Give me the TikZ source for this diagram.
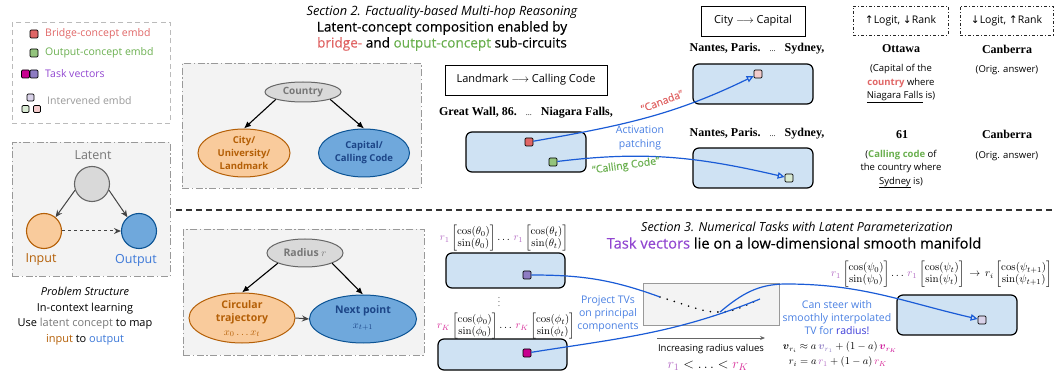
\RequirePackage{fix-cm}
\documentclass[tikz,border=0pt]{standalone}
\usepackage{amsmath,amssymb}
\usepackage[no-math]{fontspec}
\setmainfont{Open Sans}
\newfontfamily\medf[FakeBold=0.4]{Open Sans}
\newfontfamily\serifb{Liberation Serif}
\newfontfamily\symf{DejaVu Sans}
\usetikzlibrary{shapes.geometric,arrows.meta}

\definecolor{bgfill}{HTML}{F3F3F3}
\definecolor{bayesgray}{HTML}{999999}
\definecolor{legendgray}{HTML}{BBBBBB}
\definecolor{embfill}{HTML}{CFE2F3}
\definecolor{linkblue}{HTML}{1A5BD6}
\definecolor{labelblue}{HTML}{4A80E2}
\definecolor{radblue}{HTML}{3A3AD8}
\definecolor{bridgered}{HTML}{E06666}
\definecolor{outgreen}{HTML}{93C47D}
\definecolor{outgreentext}{HTML}{6AAF4F}
\definecolor{tvmag}{HTML}{C8008F}
\definecolor{tvpurp}{HTML}{8E7CC3}
\definecolor{tvtext}{HTML}{9146D0}
\definecolor{lpink}{HTML}{F4CCCC}
\definecolor{lgreen}{HTML}{D9EAD3}
\definecolor{lpurp}{HTML}{D9D2E9}
\definecolor{intgray}{HTML}{999999}
\definecolor{latfill}{HTML}{D9D9D9}
\definecolor{latdraw}{HTML}{666666}
\definecolor{latgray}{HTML}{777777}
\definecolor{infill}{HTML}{F9CB9C}
\definecolor{indraw}{HTML}{B45F06}
\definecolor{outfill}{HTML}{6FA8DC}
\definecolor{outdraw}{HTML}{0B5394}
\definecolor{outputtext}{HTML}{3C78D8}
\definecolor{navy}{HTML}{1C4587}
\definecolor{rone}{HTML}{B46CC4}
\definecolor{rk}{HTML}{D8309A}
\definecolor{arrgray}{HTML}{444444}

\begin{document}
\begin{tikzpicture}[x=1pt,y=1pt,
  lbl/.style={inner sep=0pt, font=\fontsize{10.5}{12}\selectfont},
  sq/.style={draw=black, line width=0.7pt, rounded corners=1.2pt, minimum size=8pt, inner sep=0pt},
  emb/.style={draw=black, line width=1.2pt, rounded corners=6pt, fill=embfill, inner sep=0pt},
  bayes/.style={draw=bayesgray, line width=0.9pt, dash pattern=on 7pt off 2.5pt on 1.5pt off 2.5pt, fill=bgfill, inner sep=0pt},
  legendbox/.style={draw=legendgray, line width=0.9pt, dash pattern=on 5pt off 3.5pt, inner sep=0pt},
  ell/.style={ellipse, line width=1pt, inner sep=0pt},
  conn/.style={draw=linkblue, line width=1.2pt},
  opentip/.style={-{Triangle[open,length=7pt,width=6.5pt]}},
  garrow/.style={draw=arrgray, line width=1pt, -{Stealth[length=7pt,width=6pt]}},
  barrow/.style={draw=black, line width=1.1pt, -{Latex[length=7pt,width=6pt]}},
  serifnode/.style={inner sep=0pt, font=\serifb\bfseries\fontsize{12}{14}\selectfont},
  smalltxt/.style={inner sep=0pt, align=center, font=\fontsize{9.5}{13.5}\selectfont},
  hdrone/.style={inner sep=0pt, font=\itshape\fontsize{12.8}{14}\selectfont},
  hdrtwo/.style={inner sep=0pt, font=\medf\fontsize{13.6}{15}\selectfont},
  mathnine/.style={inner sep=0pt, font=\fontsize{10.8}{12}\selectfont},
  dashbox/.style={draw=black!85, line width=0.9pt, dash pattern=on 3pt off 2pt on 1pt off 2pt, inner sep=0pt, font=\fontsize{10.5}{12}\selectfont},
  plainbox/.style={draw=black, line width=0.8pt, inner sep=0pt, font=\fontsize{11}{13}\selectfont},
  bluetxt/.style={inner sep=0pt, align=center, text=labelblue, font=\fontsize{10.5}{13.5}\selectfont},
  dotcurve/.style={draw=black, line width=1.8pt, line cap=round, dash pattern=on 0pt off 7.5pt},
  sepline/.style={draw=black!80, line width=1.2pt, dash pattern=on 6pt off 4pt}
]
\useasboundingbox (0,0) rectangle (1055,-379);

% ---------- legend ----------
\node[legendbox, minimum width=158pt, minimum height=101pt, anchor=north west] (legend) at (12,-22) {};
\node[sq, fill=bridgered] (lr) at (34,-34) {};
\node[lbl, text=bridgered, anchor=west] (lrt) at (45,-34) {Bridge-concept embd};
\node[sq, fill=outgreen] (lg) at (34,-53) {};
\node[lbl, text=outgreentext, anchor=west] (lgt) at (45,-53) {Output-concept embd};
\node[sq, fill=tvmag] (lm) at (25.5,-74) {};
\node[sq, fill=tvpurp] (lp) at (34,-74) {};
\node[lbl, text=tvtext, anchor=west] (lmt) at (45,-74) {Task vectors};
\node[sq, fill=lpurp, minimum size=7pt] (li1) at (30.5,-97.5) {};
\node[sq, fill=lgreen, minimum size=7pt] (li2) at (25.5,-109) {};
\node[sq, fill=lpink, minimum size=7pt] (li3) at (37,-109) {};
\node[lbl, text=intgray, anchor=west] (lit) at (47,-101) {Intervened embd};

% ---------- problem structure ----------
\node[bayes, minimum width=158pt, minimum height=134pt, anchor=north west] (psbox) at (12,-142) {};
\node[inner sep=0pt, font=\fontsize{12.5}{14}\selectfont, text=latgray] (latt) at (93,-155) {Latent};
\node[circle, draw=latdraw, fill=latfill, line width=1.1pt, minimum size=35pt, inner sep=0pt] (lat) at (92,-184) {};
\node[circle, draw=indraw, fill=infill, line width=1.1pt, minimum size=35pt, inner sep=0pt] (inp) at (44,-231) {};
\node[circle, draw=outdraw, fill=outfill, line width=1.1pt, minimum size=35pt, inner sep=0pt] (outc) at (139,-231) {};
\node[inner sep=0pt, font=\fontsize{12.5}{14}\selectfont, text=indraw] (inpt) at (41,-260) {Input};
\node[inner sep=0pt, font=\fontsize{12.5}{14}\selectfont, text=outputtext] (outt) at (136,-260) {Output};
\draw[garrow] (lat.200) -- (inp.50);
\draw[garrow] (lat.340) -- (outc.130);
\draw[garrow, dashed] (inp) -- (outc);
\node[inner sep=0pt, align=center, font=\fontsize{11}{15.6}\selectfont] (cap) at (85,-316) {\textit{Problem Structure}\\In-context learning\\Use {\color{latgray}latent concept} to map\\{\color{indraw}input} to {\color{outputtext}output}};

% ---------- top bayes box ----------
\node[bayes, minimum width=239pt, minimum height=125pt, anchor=north west] (b1) at (182,-63) {};
\node[ell, draw=latdraw, fill=latfill, minimum width=76pt, minimum height=20pt] (country) at (303,-92) {};
\node[inner sep=0pt, text=latgray, font=\bfseries\fontsize{10}{12}\selectfont] (countryt) at (303,-92) {Country};
\node[ell, draw=indraw, fill=infill, minimum width=92pt, minimum height=48pt] (city) at (244,-153) {};
\node[inner sep=0pt, align=center, text=indraw, font=\bfseries\fontsize{9.5}{13}\selectfont] (cityt) at (244,-153) {City/\\University/\\Landmark};
\node[ell, draw=outdraw, fill=outfill, minimum width=91pt, minimum height=48pt] (capc) at (364,-153) {};
\node[inner sep=0pt, align=center, text=navy, font=\bfseries\fontsize{9.5}{13}\selectfont] (capt) at (364,-153) {Capital/\\Calling Code};
\draw[barrow] (country.south west) -- (city.north);
\draw[barrow] (country.south east) -- (capc.north);

% ---------- bottom bayes box ----------
\node[bayes, minimum width=241pt, minimum height=126pt, anchor=north west] (b2) at (183,-229) {};
\node[ell, draw=latdraw, fill=latfill, minimum width=76pt, minimum height=28pt] (radius) at (305,-253) {};
\node[inner sep=0pt, text=latgray, font=\bfseries\fontsize{10.5}{12}\selectfont] (radiust) at (305,-253) {Radius $r$};
\node[ell, draw=indraw, fill=infill, minimum width=106pt, minimum height=50pt] (circ) at (242,-318) {};
\node[inner sep=0pt, align=center, text=indraw, font=\bfseries\fontsize{10.5}{13.5}\selectfont] (circt) at (242,-318.5) {Circular\\trajectory\\{\mdseries$x_0\ldots x_t$}};
\node[ell, draw=outdraw, fill=outfill, minimum width=107pt, minimum height=48pt] (nextp) at (363,-319) {};
\node[inner sep=0pt, align=center, text=navy, font=\bfseries\fontsize{10.5}{15}\selectfont] (nextt) at (363,-318) {Next point\\{\mdseries$x_{t+1}$}};
\draw[barrow] (radius.south west) -- (circ.north);
\draw[barrow] (radius.south east) -- (nextp.north);
\draw[garrow] (circ.east) -- (nextp.west);

% ---------- section 2 header ----------
\node[hdrone] (s2a) at (442,-12) {Section 2. Factuality-based Multi-hop Reasoning};
\node[hdrtwo] (s2b) at (442,-28) {Latent-concept composition enabled by};
\node[hdrtwo] (s2c) at (442,-44) {{\color{bridgered}bridge-} and {\color{outgreentext}output-concept} sub-circuits};

% ---------- section 2 content ----------
\node[plainbox, minimum width=162pt, minimum height=30pt] (lmbox) at (526,-80) {Landmark $\longrightarrow$ Calling Code};
\node[serifnode] (gw) at (526,-113) {Great Wall, 86.\hspace{9pt}{\mdseries\fontsize{8}{8}\selectfont...}\hspace{9pt}Niagara Falls,};
\node[emb, minimum width=120pt, minimum height=40pt] (e1) at (526,-152) {};
\node[sq, fill=bridgered] (br) at (529,-142) {};
\node[sq, fill=outgreen] (gq) at (553,-162) {};

\node[plainbox, minimum width=104pt, minimum height=30pt] (ccbox) at (753,-21) {City $\longrightarrow$ Capital};
\node[serifnode] (np1) at (757,-49) {Nantes, Paris.\hspace{9pt}{\mdseries\fontsize{8}{8}\selectfont...}\hspace{9pt}Sydney,};
\node[emb, minimum width=120pt, minimum height=40pt] (e2) at (753,-84) {};
\node[sq, fill=lpink] (pk) at (758,-74) {};
\node[serifnode] (np2) at (757,-134) {Nantes, Paris.\hspace{9pt}{\mdseries\fontsize{8}{8}\selectfont...}\hspace{9pt}Sydney,};
\node[emb, minimum width=120pt, minimum height=40pt] (e3) at (753,-168) {};
\node[sq, fill=lgreen] (lgq) at (789,-178) {};

\draw[conn, opentip] (br) to[out=10, in=206] (pk);
\draw[conn, opentip] (gq) to[out=7, in=167] (lgq);

\node[inner sep=0pt, rotate=21, text=bridgered, font=\medf\fontsize{10.5}{12}\selectfont] (canada) at (662,-101) {“Canada”};
\node[bluetxt] (actp) at (640,-138) {Activation\\patching};
\node[inner sep=0pt, rotate=8, text=outgreentext, font=\medf\fontsize{10.5}{12}\selectfont] (callc) at (626,-166) {“Calling Code”};

\node[dashbox, minimum width=95pt, minimum height=29pt] (lb1) at (900.5,-20.5) {{\symf ↑}Logit, {\symf ↓}Rank};
\node[dashbox, minimum width=93pt, minimum height=29pt] (lb2) at (1006.5,-20.5) {{\symf ↓}Logit, {\symf ↑}Rank};
\node[serifnode] (ott) at (901,-49) {Ottawa};
\node[serifnode] (can1) at (1007,-49) {Canberra};
\node[smalltxt] (exp1) at (901,-83.5) {(Capital of the\\{\color{bridgered}\bfseries country} where\\\underline{Niagara Falls} is)};
\node[smalltxt] (orig1) at (1007,-70) {(Orig. answer)};
\node[serifnode] (s61) at (902,-135) {61};
\node[serifnode] (can2) at (1007,-134) {Canberra};
\node[smalltxt] (exp2) at (901,-169) {({\color{outgreentext}\bfseries Calling code} of\\the country where\\\underline{Sydney} is)};
\node[smalltxt] (orig2) at (1007,-156) {(Orig. answer)};

% ---------- separator ----------
\coordinate (sepL) at (176,-210);
\coordinate (sepR) at (1052,-210);
\draw[sepline] (sepL) -- (sepR);

% ---------- section 3 header ----------
\node[hdrone, font=\itshape\fontsize{12.5}{14}\selectfont] (s3a) at (797,-227) {Section 3. Numerical Tasks with Latent Parameterization};
\node[hdrtwo, font=\medf\fontsize{14.7}{16}\selectfont] (s3b) at (794,-243) {{\color{tvtext}Task vectors} lie on a low-dimensional smooth manifold};

% ---------- section 3 content ----------
\node[mathnine] (f1) at (504,-238) {$\textcolor{rone}{r_1}\begin{bmatrix}\cos(\theta_0)\\ \sin(\theta_0)\end{bmatrix}\ldots\,\textcolor{rone}{r_1}\begin{bmatrix}\cos(\theta_t)\\ \sin(\theta_t)\end{bmatrix}$};
\node[emb, minimum width=119pt, minimum height=35pt] (e4) at (505.5,-270.5) {};
\node[sq, fill=tvpurp] (pq) at (527,-275) {};
\node[inner sep=0pt, text=black!60, font=\fontsize{9}{10}\selectfont] (vd) at (499,-299) {$\vdots$};
\node[mathnine] (f2) at (506,-326) {$\textcolor{rk}{r_K}\begin{bmatrix}\cos(\phi_0)\\ \sin(\phi_0)\end{bmatrix}\ldots\,\textcolor{rk}{r_K}\begin{bmatrix}\cos(\phi_t)\\ \sin(\phi_t)\end{bmatrix}$};
\node[emb, minimum width=129pt, minimum height=31pt] (e5) at (502.5,-354.5) {};
\node[sq, fill=tvmag] (mq) at (527,-353) {};
\node[bluetxt, font=\fontsize{10.5}{13}\selectfont] (projt) at (608,-314) {Project TVs\\on principal\\components};

\node[draw=bayesgray, fill=bgfill, line width=0.9pt, minimum width=136pt, minimum height=42pt, inner sep=0pt] (mani) at (711,-304) {};
\coordinate (md1) at (660,-297);
\coordinate (md2) at (720,-312);
\coordinate (md3) at (760,-299);
\draw[dotcurve] (md1) .. controls (690,-306) and (705,-313) .. (md2) .. controls (735,-312) and (748,-304) .. (md3);

\node[mathnine, anchor=west, font=\fontsize{10.9}{12}\selectfont] (f3) at (831,-274) {$\textcolor{rone}{r_1}\begin{bmatrix}\cos(\psi_0)\\ \sin(\psi_0)\end{bmatrix}\ldots\,\textcolor{rone}{r_1}\begin{bmatrix}\cos(\psi_t)\\ \sin(\psi_t)\end{bmatrix}\,\rightarrow\, r_i\begin{bmatrix}\cos(\psi_{t+1})\\ \sin(\psi_{t+1})\end{bmatrix}$};
\node[emb, minimum width=120pt, minimum height=40pt] (e6) at (957,-315) {};
\node[sq, fill=lpurp] (tq) at (982,-320) {};

\draw[conn] (pq) to[out=0, in=160] (md1);
\draw[conn] (mq) to[out=9, in=202] (md3);
\coordinate (peak) at (786,-284);
\draw[conn, opentip] (md2) to[out=40, in=180] (peak) to[out=0, in=167] (tq);

\coordinate (ia1) at (657,-338);
\coordinate (ia2) at (765,-338);
\draw[draw=black!60, line width=0.8pt, -{Stealth[length=5pt,width=4pt]}] (ia1) -- (ia2);
\node[inner sep=0pt, font=\fontsize{9.5}{11}\selectfont] (inct) at (711,-349) {Increasing radius values};
\node[inner sep=0pt, font=\fontsize{14}{16}\selectfont] (rineq) at (708,-366) {$\textcolor{rone}{r_1} < \ldots < \textcolor{rk}{r_K}$};

\node[bluetxt, font=\fontsize{10.5}{13}\selectfont] (steer) at (837,-318) {Can steer with\\smoothly interpolated\\TV for {\color{radblue}radius!}};
\node[inner sep=0pt, font=\fontsize{10.5}{12}\selectfont] (eq1) at (840,-347) {$\boldsymbol{v}_{r_i} \approx a\,\textcolor{tvpurp}{\boldsymbol{v}_{r_1}} + (1-a)\,\textcolor{tvmag}{\boldsymbol{v}_{r_K}}$};
\node[inner sep=0pt, font=\fontsize{10.5}{12}\selectfont] (eq2) at (838,-362) {$r_i = a\,\textcolor{rone}{r_1} + (1-a)\,\textcolor{rk}{r_K}$};
\end{tikzpicture}
\end{document}
